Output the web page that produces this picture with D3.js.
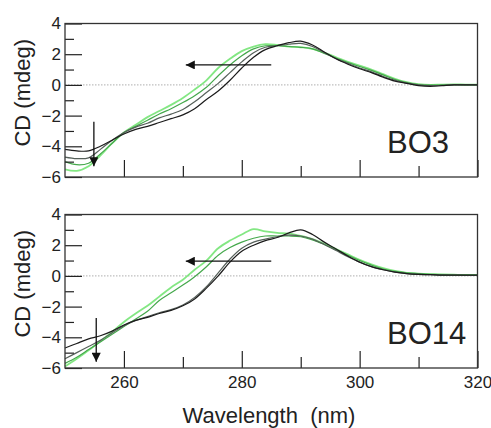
<!DOCTYPE html>
<html>
<head>
<meta charset="utf-8">
<script src="https://cdn.jsdelivr.net/npm/d3@7"></script>
<style>
  body { margin: 0; background: #fff; }
  text { font-family: "Liberation Sans", Arial, sans-serif; fill: #222; }
</style>
</head>
<body>
<script>
// wavelengths (nm)
const wavelengths = [250, 252, 254, 256, 258, 260, 262, 264, 266, 268, 270, 272, 274, 276, 278, 280, 282, 284,
  286, 288, 290, 292, 294, 296, 298, 300, 302, 304, 306, 308, 310, 312, 314, 316, 318, 320];

// BO3 spectra
const bo3Black = [-4.2, -4.3, -4.3, -4.0, -3.6, -3.2, -2.9, -2.7, -2.45, -2.2, -1.95, -1.55, -0.95, -0.4, 0.3, 1.1, 1.8, 2.3,
  2.55, 2.75, 2.85, 2.6, 2.15, 1.7, 1.35, 1.05, 0.8, 0.5, 0.25, 0.1, -0.05, -0.1, -0.05, 0.0, 0.0, 0.0];
const bo3Grey = [-4.7, -4.8, -4.75, -4.2, -3.6, -3.1, -2.75, -2.5, -2.15, -1.9, -1.6, -1.1, -0.5, 0.1, 0.8, 1.5, 2.1, 2.45,
  2.55, 2.65, 2.7, 2.5, 2.1, 1.7, 1.4, 1.1, 0.85, 0.55, 0.3, 0.12, 0.0, -0.05, -0.03, 0.0, 0.0, 0.0];
const bo3Green = [-5.0, -5.2, -5.1, -4.5, -3.8, -3.1, -2.7, -2.3, -1.9, -1.55, -1.15, -0.7, -0.15, 0.6, 1.3, 1.9, 2.35, 2.55,
  2.55, 2.5, 2.45, 2.35, 2.05, 1.75, 1.45, 1.2, 0.95, 0.65, 0.35, 0.15, 0.02, -0.02, 0.0, 0.02, 0.0, 0.0];
const bo3Light = [-5.5, -5.6, -5.3, -4.6, -3.8, -3.1, -2.6, -2.1, -1.7, -1.3, -0.85, -0.3, 0.3, 1.1, 1.7, 2.2, 2.5, 2.65,
  2.6, 2.5, 2.45, 2.35, 2.1, 1.8, 1.5, 1.25, 1.0, 0.7, 0.4, 0.18, 0.05, 0.0, 0.02, 0.03, 0.02, 0.02];

// BO14 spectra
const bo14Black = [-4.7, -4.4, -4.1, -3.9, -3.6, -3.2, -2.9, -2.7, -2.45, -2.25, -1.95, -1.5, -0.8, 0.0, 0.9, 1.6, 2.0, 2.3,
  2.5, 2.8, 3.0, 2.7, 2.2, 1.75, 1.3, 0.9, 0.6, 0.4, 0.25, 0.15, 0.1, 0.08, 0.05, 0.05, 0.05, 0.05];
const bo14Grey = [-5.4, -5.0, -4.6, -4.2, -3.7, -3.25, -2.9, -2.65, -2.4, -2.2, -1.9, -1.4, -0.7, 0.2, 1.1, 1.8, 2.2, 2.4,
  2.55, 2.65, 2.6, 2.4, 2.05, 1.65, 1.25, 0.9, 0.6, 0.4, 0.25, 0.15, 0.1, 0.08, 0.05, 0.05, 0.04, 0.04];
const bo14Green = [-5.7, -5.3, -4.8, -4.3, -3.8, -3.3, -2.8, -2.3, -1.6, -1.1, -0.6, -0.05, 0.6, 1.35, 1.85, 2.2, 2.45, 2.6,
  2.6, 2.6, 2.55, 2.35, 2.05, 1.7, 1.35, 1.0, 0.7, 0.45, 0.3, 0.2, 0.15, 0.1, 0.08, 0.06, 0.05, 0.05];
const bo14Light = [-5.9, -5.4, -4.85, -4.25, -3.65, -3.0, -2.45, -1.95, -1.35, -0.75, -0.25, 0.4, 1.0, 1.8, 2.3, 2.7, 3.05, 2.9,
  2.8, 2.75, 2.6, 2.4, 2.1, 1.75, 1.4, 1.05, 0.75, 0.5, 0.32, 0.2, 0.15, 0.12, 0.1, 0.08, 0.06, 0.06];

const seriesColors = ["#1c1c1c", "#56605a", "#45a84c", "#6de36d"];

const yMajor = [-6, -4, -2, 0, 2, 4];
const yMinor = [-5, -3, -1, 1, 3];
const xMajor = [260, 280, 300, 320];
const xMinor = [270, 290, 310];

const panels = [
  { label: "BO3", series: [bo3Light, bo3Green, bo3Grey, bo3Black], top: 23.5,
    hArrow: [285, 270.5, 1.3], vArrow: [254.9, -2.4, -5.3] },
  { label: "BO14", series: [bo14Light, bo14Green, bo14Grey, bo14Black], top: 214.5,
    hArrow: [285, 270.5, 0.96], vArrow: [255.3, -2.75, -5.6] },
];

const width = 491, height = 428;
const left = 65, right = 477.5, panelH = 153.5;
const font = "Liberation Sans, Arial, sans-serif";

const svg = d3.select("body").append("svg").attr("width", width).attr("height", height);

svg.append("defs").append("marker")
  .attr("id", "head")
  .attr("viewBox", "0 0 10 10")
  .attr("refX", 10).attr("refY", 5)
  .attr("markerWidth", 11).attr("markerHeight", 9)
  .attr("markerUnits", "userSpaceOnUse")
  .attr("orient", "auto")
  .append("path").attr("d", "M0,0 L10,5 L0,10 Z").attr("fill", "#111");

const x = d3.scaleLinear().domain([250, 320]).range([left, right]);

panels.forEach((p, pi) => {
  const y = d3.scaleLinear().domain([-6, 4]).range([p.top + panelH, p.top]);
  const g = svg.append("g");

  // linea del cero
  g.append("line")
    .attr("x1", x(250)).attr("x2", x(320))
    .attr("y1", y(0)).attr("y2", y(0))
    .attr("stroke", "#999").attr("stroke-width", 0.8)
    .attr("stroke-dasharray", "1.5,1.5");

  const line = d3.line()
    .x((d) => x(d[0]))
    .y((d) => y(d[1]))
    .curve(d3.curveCatmullRom);

  p.series.forEach((s, si) => {
    const color = seriesColors[3 - si];
    g.append("path")
      .datum(wavelengths.map((w, i) => [w, s[i]]))
      .attr("d", line)
      .attr("fill", "none")
      .attr("stroke", color)
      .attr("stroke-width", si === 0 ? 1.8 : 1.2)
      .attr("stroke-opacity", si === 0 ? 0.85 : 1);
  });

  // ticks del eje y (hacia dentro)
  g.append("g")
    .attr("transform", `translate(${left},0)`)
    .call(d3.axisLeft(y).tickValues(yMinor).tickSize(-9).tickFormat(""))
    .call((a) => a.select(".domain").remove());
  g.append("g")
    .attr("transform", `translate(${left},0)`)
    .call(d3.axisLeft(y).tickValues(yMajor).tickSize(-17).tickPadding(4).tickFormat(d3.format("d")))
    .call((a) => a.select(".domain").remove())
    .call((a) => a.selectAll("text").attr("font-size", 17).attr("font-family", font).attr("fill", "#222"));

  // ticks del eje x
  g.append("g")
    .attr("transform", `translate(0,${p.top + panelH})`)
    .call(d3.axisBottom(x).tickValues(xMinor).tickSize(-11).tickFormat(""))
    .call((a) => a.select(".domain").remove());
  g.append("g")
    .attr("transform", `translate(0,${p.top + panelH})`)
    .call(d3.axisBottom(x).tickValues(xMajor).tickSize(-17).tickPadding(8)
      .tickFormat(pi === 1 ? d3.format("d") : ""))
    .call((a) => a.select(".domain").remove())
    .call((a) => a.selectAll("text").attr("font-size", 17).attr("font-family", font).attr("fill", "#222"));

  g.selectAll(".tick line").attr("stroke", "#222").attr("stroke-width", 1.2);

  // marco
  g.append("rect")
    .attr("x", left).attr("y", p.top)
    .attr("width", right - left).attr("height", panelH)
    .attr("fill", "none").attr("stroke", "#333").attr("stroke-width", 1.3);

  // flechas
  g.append("line")
    .attr("x1", x(p.hArrow[0])).attr("x2", x(p.hArrow[1]))
    .attr("y1", y(p.hArrow[2])).attr("y2", y(p.hArrow[2]))
    .attr("stroke", "#111").attr("stroke-width", 1.3)
    .attr("marker-end", "url(#head)");
  g.append("line")
    .attr("x1", x(p.vArrow[0])).attr("x2", x(p.vArrow[0]))
    .attr("y1", y(p.vArrow[1])).attr("y2", y(p.vArrow[2]))
    .attr("stroke", "#111").attr("stroke-width", 1.3)
    .attr("marker-end", "url(#head)");

  g.append("text")
    .attr("x", 387).attr("y", p.top + 129)
    .attr("font-size", 31)
    .text(p.label);

  g.append("text")
    .attr("transform", `translate(30,${p.top + panelH / 2 - 7.5}) rotate(-90)`)
    .attr("text-anchor", "middle")
    .attr("font-size", 22)
    .text("CD (mdeg)");
});

svg.append("text")
  .attr("x", 269).attr("y", 423)
  .attr("text-anchor", "middle")
  .attr("font-size", 22)
  .style("white-space", "pre")
  .text("Wavelength  (nm)");
</script>
</body>
</html>
